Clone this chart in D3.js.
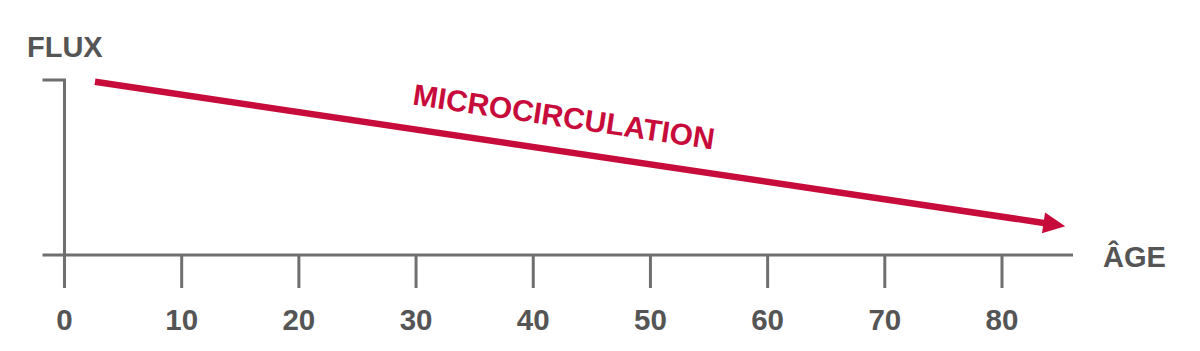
<!DOCTYPE html>
<html>
<head>
<meta charset="utf-8">
<script src="https://cdn.jsdelivr.net/npm/d3@7"></script>
<style>
  body { margin: 0; background: #fff; }
  text { font-family: "Liberation Sans", Arial, sans-serif; font-weight: bold; }
</style>
</head>
<body>
<div id="chart"></div>
<script>
// data
const ageTicks = [0, 10, 20, 30, 40, 50, 60, 70, 80];
const trendAge = [2.6, 85.4];      // start / arrow tip
const trendFlux = [0.99, 0.165];   // relative flux
const trendLabel = "MICROCIRCULATION";
const yLabel = "FLUX";
const xLabel = "ÂGE";

const width = 1200, height = 351;
const red = "#c70c3b", grey = "#6f6f6f", textGrey = "#555";

const svg = d3.select("#chart").append("svg")
    .attr("width", width)
    .attr("height", height);

const x = d3.scaleLinear().domain([0, 80]).range([64.5, 1002]);
const y = d3.scaleLinear().domain([0, 1]).range([255, 80]);

// x axis: long baseline + downward ticks
svg.append("line")
    .attr("x1", x(0) - 22).attr("x2", 1073)
    .attr("y1", y(0)).attr("y2", y(0))
    .attr("stroke", grey).attr("stroke-width", 3);

svg.selectAll(".xtick")
    .data(ageTicks)
    .join("line")
    .attr("class", "xtick")
    .attr("x1", d => x(d)).attr("x2", d => x(d))
    .attr("y1", y(0)).attr("y2", y(0) + 33)
    .attr("stroke", grey).attr("stroke-width", 3);

svg.selectAll(".xlabel")
    .data(ageTicks)
    .join("text")
    .attr("class", "xlabel")
    .attr("x", d => x(d))
    .attr("y", 330)
    .attr("text-anchor", "middle")
    .attr("font-size", 29.5)
    .attr("fill", textGrey)
    .text(d => d);

// y axis with top cap
svg.append("path")
    .attr("d", `M${x(0) - 22},${y(1)} H${x(0)} V${y(0) + 33}`)
    .attr("fill", "none")
    .attr("stroke", grey).attr("stroke-width", 3);

svg.append("text")
    .attr("x", 27).attr("y", 57)
    .attr("font-size", 29)
    .attr("fill", textGrey)
    .text(yLabel);

svg.append("text")
    .attr("x", 1103).attr("y", 267)
    .attr("font-size", 29)
    .attr("fill", textGrey)
    .text(xLabel);

// trend arrow
const pts = trendAge.map((a, i) => [x(a), y(trendFlux[i])]);
const [p0, p1] = pts;
const ang = Math.atan2(p1[1] - p0[1], p1[0] - p0[0]);
const headLen = 22, headHalf = 10.5;
const ux = Math.cos(ang), uy = Math.sin(ang);
const base = [p1[0] - ux * headLen, p1[1] - uy * headLen];

svg.append("path")
    .attr("d", d3.line()([p0, [base[0] + ux * 2, base[1] + uy * 2]]))
    .attr("stroke", red).attr("stroke-width", 6.5)
    .attr("fill", "none");

svg.append("path")
    .attr("d", d3.line()([
        p1,
        [base[0] - uy * headHalf, base[1] + ux * headHalf],
        [base[0] + uy * headHalf, base[1] - ux * headHalf]
    ]) + "Z")
    .attr("fill", red);

// label along the arrow
const mid = [p0[0] + (p1[0] - p0[0]) * 0.478, p0[1] + (p1[1] - p0[1]) * 0.478];
const off = 24;
svg.append("text")
    .attr("transform", `translate(${mid[0] + uy * off},${mid[1] - ux * off}) rotate(${ang * 180 / Math.PI})`)
    .attr("text-anchor", "middle")
    .attr("font-size", 30)
    .attr("fill", red)
    .text(trendLabel);
</script>
</body>
</html>
